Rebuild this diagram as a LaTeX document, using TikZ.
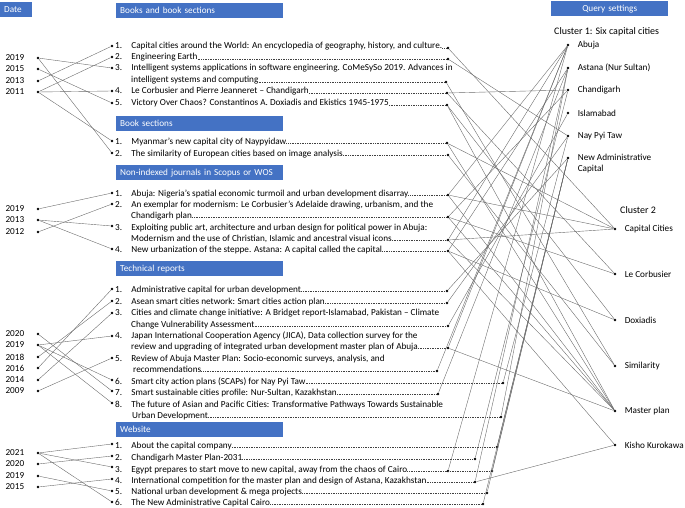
\documentclass[tikz,border=0pt]{standalone}
\usepackage{fontspec}
\setmainfont{Carlito}
\definecolor{hdrblue}{RGB}{68,114,196}
\begin{document}
\begin{tikzpicture}[
        x=1pt, y=-1pt,
        font=\fontsize{9.2}{11}\selectfont,
        hdr/.style={fill=hdrblue, text=white, anchor=north west, minimum height=15pt, text width=159pt, inner xsep=4pt, inner ysep=0pt, align=left},
        blob/.style={circle, fill=black, inner sep=0pt, minimum size=2.8pt},
        txt/.style={anchor=base west, inner sep=0pt},
        yr/.style={blob, label={[inner sep=0pt, label distance=12pt]left:#1}},
        clab/.style={inner sep=0pt, label distance=8pt},
        lead/.style={dash pattern=on 0.6pt off 1.1pt, black!75, line width=0.5pt},
        link/.style={black!58, line width=0.4pt}
    ]
        \useasboundingbox (0,0) rectangle (685,508);

        % Headers
        \node[hdr, text width=24pt] (hdate) at (0,2) {Date};
        \node[hdr] (hbooks) at (116,3) {Books and book sections};
        \node[hdr] (hsect) at (116,116) {Book sections};
        \node[hdr] (hjour) at (116,165) {Non-indexed journals in Scopus or WOS};
        \node[hdr] (htech) at (116,261) {Technical reports};
        \node[hdr] (hweb) at (116,422) {Website};
        \node[hdr, text width=109pt, align=center] (hquery) at (551,1) {Query settings};

        % Years
        \node[yr=2019] (ba19) at (38,58) {};
        \node[yr=2015] (ba15) at (38,69) {};
        \node[yr=2013] (ba13) at (38,81) {};
        \node[yr=2011] (ba11) at (38,92) {};
        \node[yr=2019] (ja19) at (38,209) {};
        \node[yr=2013] (ja13) at (38,220) {};
        \node[yr=2012] (ja12) at (38,232) {};
        \node[yr=2020] (ta20) at (38,334) {};
        \node[yr=2019] (ta19) at (38,345) {};
        \node[yr=2018] (ta18) at (38,357) {};
        \node[yr=2016] (ta16) at (38,368) {};
        \node[yr=2014] (ta14) at (38,380) {};
        \node[yr=2009] (ta09) at (38,391) {};
        \node[yr=2021] (wa21) at (38,453) {};
        \node[yr=2020] (wa20) at (38,464) {};
        \node[yr=2019] (wa19) at (38,476) {};
        \node[yr=2015] (wa15) at (38,487) {};

        % Books and book sections
        \node[blob] (b1l) at (112,46) {};
        \node[txt] (b1) at (115,49) {1.\quad Capital cities around the World: An encyclopedia of geography, history, and culture.};
        \node[blob] (b1r) at (448,48) {};
        \node[blob] (b2l) at (112,57) {};
        \node[txt] (b2) at (115,60) {2.\quad Engineering Earth};
        \node[blob] (b2r) at (448,59) {};
        \node[blob] (b3l) at (112,68) {};
        \node[txt] (b3) at (115,71) {3.\quad Intelligent systems applications in software engineering. CoMeSySo 2019. Advances in};
        \node[txt] (b3b) at (131,83) {intelligent systems and computing};
        \node[blob] (b3r) at (446,82) {};
        \node[blob] (b4l) at (112,91) {};
        \node[txt] (b4) at (115,94) {4.\quad Le Corbusier and Pierre Jeanneret -- Chandigarh};
        \node[blob] (b4r) at (447,93) {};
        \node[blob] (b5l) at (112,103) {};
        \node[txt] (b5) at (115,106) {5.\quad Victory Over Chaos? Constantinos A. Doxiadis and Ekistics 1945-1975};
        \node[blob] (b5r) at (447,105) {};
        \draw[lead] (b1.east |- b1r) -- (b1r);
        \draw[lead] (b2.east |- b2r) -- (b2r);
        \draw[lead] (b3b.east |- b3r) -- (b3r);
        \draw[lead] (b4.east |- b4r) -- (b4r);
        \draw[lead] (b5.east |- b5r) -- (b5r);

        % Book sections
        \node[blob] (s1l) at (112,141) {};
        \node[txt] (s1) at (115,144) {1.\quad Myanmar’s new capital city of Naypyidaw};
        \node[blob] (s1r) at (447,143) {};
        \node[blob] (s2l) at (112,153) {};
        \node[txt] (s2) at (115,156) {2.\quad The similarity of European cities based on image analysis};
        \node[blob] (s2r) at (448,155) {};
        \draw[lead] (s1.east |- s1r) -- (s1r);
        \draw[lead] (s2.east |- s2r) -- (s2r);

        % Non-indexed journals
        \node[blob] (j1l) at (112,193) {};
        \node[txt] (j1) at (115,196) {1.\quad Abuja: Nigeria’s spatial economic turmoil and urban development disarray};
        \node[blob] (j1r) at (448,195) {};
        \node[blob] (j2l) at (112,204) {};
        \node[txt] (j2) at (115,207) {2.\quad An exemplar for modernism: Le Corbusier’s Adelaide drawing, urbanism, and the};
        \node[txt] (j2b) at (131,218) {Chandigarh plan};
        \node[blob] (j2r) at (448,217) {};
        \node[blob] (j3l) at (112,226) {};
        \node[txt] (j3) at (115,230) {3.\quad Exploiting public art, architecture and urban design for political power in Abuja:};
        \node[txt] (j3b) at (131,241) {Modernism and the use of Christian, Islamic and ancestral visual icons};
        \node[blob] (j3r) at (448,240) {};
        \node[blob] (j4l) at (112,249) {};
        \node[txt] (j4) at (115,252) {4.\quad New urbanization of the steppe. Astana: A capital called the capital};
        \node[blob] (j4r) at (448,251) {};
        \draw[lead] (j1.east |- j1r) -- (j1r);
        \draw[lead] (j2b.east |- j2r) -- (j2r);
        \draw[lead] (j3b.east |- j3r) -- (j3r);
        \draw[lead] (j4.east |- j4r) -- (j4r);

        % Technical reports
        \node[blob] (t1l) at (112,289) {};
        \node[txt] (t1) at (115,292) {1.\quad Administrative capital for urban development};
        \node[blob] (t1r) at (447,291) {};
        \node[blob] (t2l) at (112,301) {};
        \node[txt] (t2) at (115,304) {2.\quad Asean smart cities network: Smart cities action plan};
        \node[blob] (t2r) at (447,303) {};
        \node[blob] (t3l) at (112,313) {};
        \node[txt] (t3) at (115,315) {3.\quad Cities and climate change initiative: A Bridget report-Islamabad, Pakistan -- Climate};
        \node[txt] (t3b) at (131,327) {Change Vulnerability Assessment};
        \node[blob] (t3r) at (448,326) {};
        \node[blob] (t4l) at (112,336) {};
        \node[txt] (t4) at (115,338) {4.\quad Japan International Cooperation Agency (JICA), Data collection survey for the};
        \node[txt] (t4b) at (131,349) {review and upgrading of integrated urban development master plan of Abuja};
        \node[blob] (t4r) at (448,348) {};
        \node[blob] (t5l) at (112,358) {};
        \node[txt] (t5) at (115,361) {5.\quad Review of Abuja Master Plan: Socio-economic surveys, analysis, and};
        \node[txt] (t5b) at (133,372) {recommendations};
        \node[blob] (t5r) at (437,371) {};
        \node[blob] (t6l) at (112,380) {};
        \node[txt] (t6) at (115,384) {6.\quad Smart city action plans (SCAPs) for Nay Pyi Taw};
        \node[blob] (t6r) at (503,383) {};
        \node[blob] (t7l) at (112,391) {};
        \node[txt] (t7) at (115,395) {7.\quad Smart sustainable cities profile: Nur-Sultan, Kazakhstan\ };
        \node[blob] (t7r) at (438,394) {};
        \node[blob] (t8l) at (112,403) {};
        \node[txt] (t8) at (115,407) {8.\quad The future of Asian and Pacific Cities: Transformative Pathways Towards Sustainable};
        \node[txt] (t8b) at (132,418) {Urban Development};
        \node[blob] (t8r) at (501,417) {};
        \draw[lead] (t1.east |- t1r) -- (t1r);
        \draw[lead] (t2.east |- t2r) -- (t2r);
        \draw[lead] (t3b.east |- t3r) -- (t3r);
        \draw[lead] (t4b.east |- t4r) -- (t4r);
        \draw[lead] (t5b.east |- t5r) -- (t5r);
        \draw[lead] (t6.east |- t6r) -- (t6r);
        \draw[lead] (t7.east |- t7r) -- (t7r);
        \draw[lead] (t8b.east |- t8r) -- (t8r);

        % Website
        \node[blob] (w1l) at (112,444) {};
        \node[txt] (w1) at (115,448) {1.\quad About the capital company};
        \node[blob] (w1r) at (497,447) {};
        \node[blob] (w2l) at (112,456) {};
        \node[txt] (w2) at (115,460) {2.\quad Chandigarh Master Plan-2031};
        \node[blob] (w2r) at (475,459) {};
        \node[blob] (w3l) at (112,467) {};
        \node[txt] (w3) at (115,472) {3.\quad Egypt prepares to start move to new capital, away from the chaos of Cairo};
        \node[blob] (w3r) at (448,471) {};
        \node[blob] (w3s) at (492,471) {};
        \node[blob] (w4l) at (112,479) {};
        \node[txt] (w4) at (115,483) {4.\quad International competition for the master plan and design of Astana, Kazakhstan};
        \node[blob] (w4r) at (475,482) {};
        \node[blob] (w5l) at (112,491) {};
        \node[txt] (w5) at (115,494) {5.\quad National urban development \& mega projects};
        \node[blob] (w5r) at (487,493) {};
        \node[blob] (w6l) at (112,502) {};
        \node[txt] (w6) at (115,505) {6.\quad The New Administrative Capital Cairo};
        \node[blob] (w6r) at (483,504) {};
        \draw[lead] (w1.east |- w1r) -- (w1r);
        \draw[lead] (w2.east |- w2r) -- (w2r);
        \draw[lead] (w3.east |- w3s) -- (w3s);
        \draw[lead] (w4.east |- w4r) -- (w4r);
        \draw[lead] (w5.east |- w5r) -- (w5r);
        \draw[lead] (w6.east |- w6r) -- (w6r);

        % Query settings
        \node[txt, font=\fontsize{10}{12}\selectfont] (c1) at (554,35) {Cluster 1: Six capital cities};
        \node[blob, label={[clab]right:Abuja}] (abuja) at (568,45) {};
        \node[blob, label={[clab]right:Astana (Nur Sultan)}] (astana) at (568,68) {};
        \node[blob, label={[clab]right:Chandigarh}] (chandigarh) at (568,90) {};
        \node[blob, label={[clab]right:Islamabad}] (islamabad) at (568,113) {};
        \node[blob, label={[clab]right:Nay Pyi Taw}] (naypyitaw) at (568,136) {};
        \node[blob, label={[clab, anchor=north west, align=left, yshift=4.5pt]right:{New Administrative\\Capital}}] (nac) at (568,158) {};
        \node[txt, font=\fontsize{10}{12}\selectfont] (c2) at (620,213) {Cluster 2};
        \node[blob, label={[clab]right:Capital Cities}] (capcities) at (615,229) {};
        \node[blob, label={[clab]right:Le Corbusier}] (lecorbusier) at (615,274) {};
        \node[blob, label={[clab]right:Doxiadis}] (doxiadis) at (615,320) {};
        \node[blob, label={[clab]right:Similarity}] (similarity) at (615,366) {};
        \node[blob, label={[clab]right:Master plan}] (masterplan) at (615,411) {};
        \node[blob, label={[clab]right:Kisho Kurokawa}] (kisho) at (615,445) {};

        % Date links
        \draw[link] (ba19) -- (b3l);
        \draw[link] (ba19) -- (s2l);
        \draw[link] (ba15) -- (b5l);
        \draw[link] (ba13) -- (b1l);
        \draw[link] (ba11) -- (b2l);
        \draw[link] (ba11) -- (b4l);
        \draw[link] (ba11) -- (s1l);
        \draw[link] (ja19) -- (j1l);
        \draw[link] (ja13) -- (j3l);
        \draw[link] (ja13) -- (j4l);
        \draw[link] (ja12) -- (j2l);
        \draw[link] (ta20) -- (t7l);
        \draw[link] (ta19) -- (t4l);
        \draw[link] (ta19) -- (t6l);
        \draw[link] (ta19) -- (t8l);
        \draw[link] (ta18) -- (t2l);
        \draw[link] (ta16) -- (t1l);
        \draw[link] (ta14) -- (t3l);
        \draw[link] (ta09) -- (t5l);
        \draw[link] (wa21) -- (w1l);
        \draw[link] (wa21) -- (w3l);
        \draw[link] (wa21) -- (w6l);
        \draw[link] (wa20) -- (w2l);
        \draw[link] (wa19) -- (w5l);
        \draw[link] (wa15) -- (w4l);

        % Query links
        \draw[link] (b1r) -- (capcities);
        \draw[link] (b2r) -- (naypyitaw);
        \draw[link] (b3r) -- (similarity);
        \draw[link] (b4r) -- (chandigarh);
        \draw[link] (b4r) -- (lecorbusier);
        \draw[link] (b5r) -- (doxiadis);
        \draw[link] (b5r) -- (masterplan);
        \draw[link] (s1r) -- (capcities);
        \draw[link] (s1r) -- (masterplan);
        \draw[link] (s2r) -- (similarity);
        \draw[link] (j1r) -- (abuja);
        \draw[link] (j1r) -- (capcities);
        \draw[link] (j1r) -- (masterplan);
        \draw[link] (j2r) -- (chandigarh);
        \draw[link] (j2r) -- (lecorbusier);
        \draw[link] (j2r) -- (masterplan);
        \draw[link] (j3r) -- (abuja);
        \draw[link] (j3r) -- (capcities);
        \draw[link] (j3r) -- (masterplan);
        \draw[link] (j4r) -- (astana);
        \draw[link] (j4r) -- (doxiadis);
        \draw[link] (j4r) -- (kisho);
        \draw[link] (t1r) -- (nac);
        \draw[link] (t2r) -- (naypyitaw);
        \draw[link] (t3r) -- (islamabad);
        \draw[link] (t4r) -- (abuja);
        \draw[link] (t4r) -- (masterplan);
        \draw[link] (t5r) -- (abuja);
        \draw[link] (t6r) -- (naypyitaw);
        \draw[link] (t7r) -- (astana);
        \draw[link] (t8r) -- (astana);
        \draw[link] (w1r) -- (nac);
        \draw[link] (w2r) -- (chandigarh);
        \draw[link] (w3r) -- (abuja);
        \draw[link] (w3s) -- (nac);
        \draw[link] (w4r) -- (astana);
        \draw[link] (w4r) -- (kisho);
        \draw[link] (w5r) -- (nac);
        \draw[link] (w6r) -- (nac);
    \end{tikzpicture}
\end{document}
